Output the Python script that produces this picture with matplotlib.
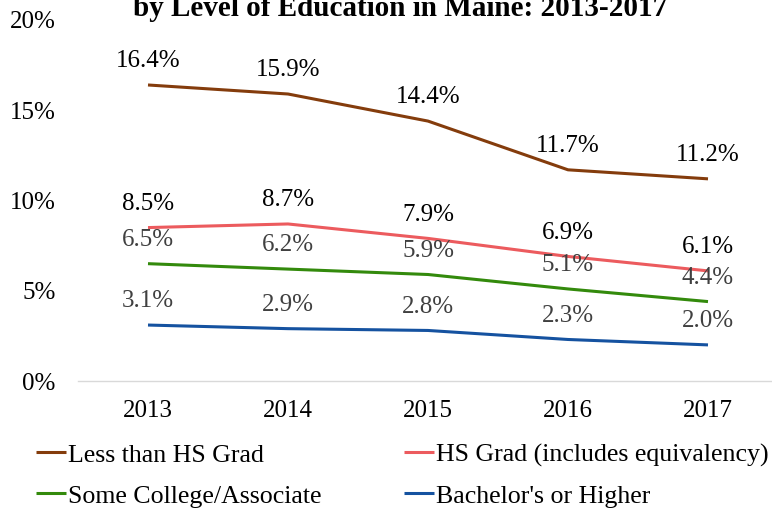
import matplotlib
matplotlib.use("Agg")
import matplotlib.pyplot as plt

years = ["2013", "2014", "2015", "2016", "2017"]
less_hs = [16.4, 15.9, 14.4, 11.7, 11.2]
hs_grad = [8.5, 8.7, 7.9, 6.9, 6.1]
some_college = [6.5, 6.2, 5.9, 5.1, 4.4]
bachelors = [3.1, 2.9, 2.8, 2.3, 2.0]

series_names = ["Less than HS Grad", "HS Grad (includes equivalency)",
                "Some College/Associate", "Bachelor's or Higher"]
series_values = [less_hs, hs_grad, some_college, bachelors]
line_colors = ["#843C0C", "#EC5B5E", "#338A0C", "#1552A0"]
label_colors = ["#000000", "#000000", "#404040", "#404040"]
y_ticks = [0, 5, 10, 15, 20]

plt.rcParams["font.family"] = ["Liberation Serif", "DejaVu Serif"]
FS = 18

fig = plt.figure(figsize=(7.72, 5.09), dpi=100)
ax = fig.add_axes([78 / 772, 128 / 509, 700 / 772, 361 / 509])

x = list(range(len(years)))
handles = []
for name, vals, lc, tc in zip(series_names, series_values, line_colors, label_colors):
    h, = ax.plot(x, vals, color=lc, lw=2.2, solid_capstyle="butt", label=name)
    handles.append(h)
    for xi, v in zip(x, vals):
        ax.annotate(f"{v:.1f}%", (xi, v), xytext=(0, 17), textcoords="offset points",
                    ha="center", va="center", fontsize=FS, color=tc)

ax.set_xlim(-0.5, len(years) - 0.5)
ax.set_ylim(0, 20)
ax.set_xticks(x)
ax.set_xticklabels(years, fontsize=FS)
ax.set_yticks(y_ticks)
ax.set_yticklabels([f"{t}%" for t in y_ticks], fontsize=FS)
ax.tick_params(axis="both", length=0)
ax.tick_params(axis="y", pad=16)
ax.tick_params(axis="x", pad=14)
for s in ["top", "right", "left"]:
    ax.spines[s].set_visible(False)
ax.spines["bottom"].set_color("#D9D9D9")
ax.spines["bottom"].set_linewidth(1.0)

fig.text(400 / 772, 1 - 16 / 509, "by Level of Education in Maine: 2013-2017",
         ha="center", va="baseline", fontsize=21, fontweight="bold")

# legend entries: (handle index, left x px, center y px)
legend_pos = [(0, 36, 455), (1, 404, 455), (2, 36, 496), (3, 404, 496)]
for idx, lx, ly in legend_pos:
    fig.legend(handles=[handles[idx]], loc="center left",
               bbox_to_anchor=(lx / 772, 1 - ly / 509), frameon=False, fontsize=18.6,
               handlelength=1.15, handletextpad=0.1, borderaxespad=0, borderpad=0)

fig.savefig("out.png", dpi=100)
